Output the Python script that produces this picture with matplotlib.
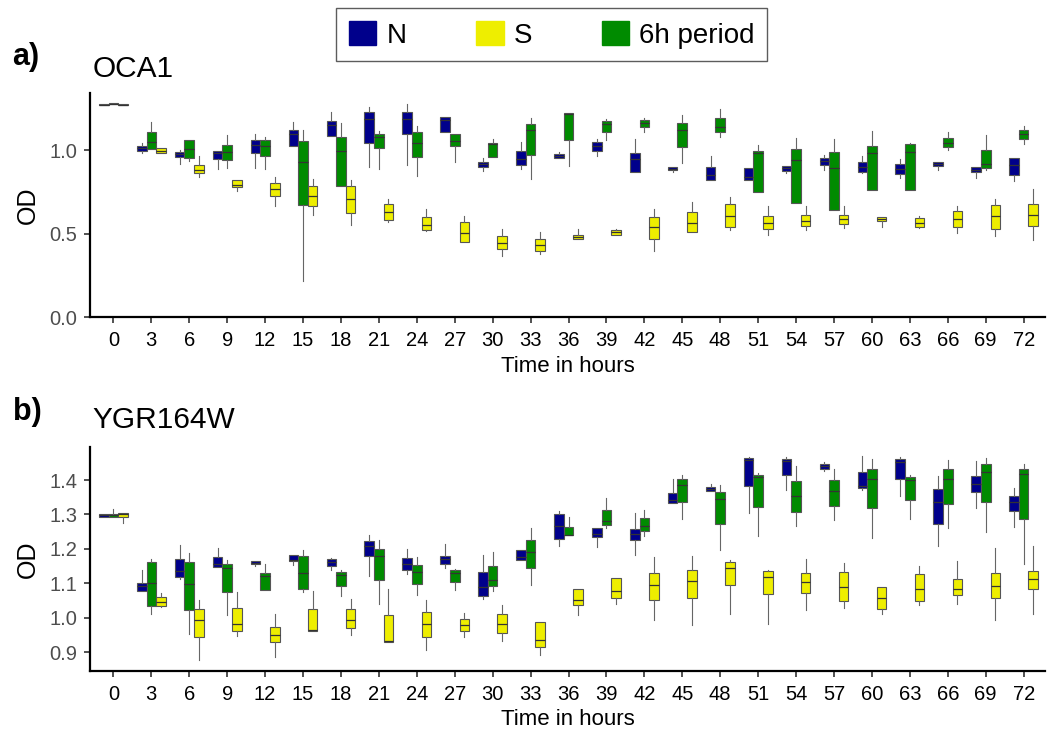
import matplotlib
matplotlib.use("Agg")
import matplotlib.pyplot as plt
from matplotlib.patches import Patch

plt.rcParams['font.family'] = ['Liberation Sans', 'DejaVu Sans']

hours = list(range(0, 73, 3))

# (lower whisker, q1, median, q3, upper whisker) per time point
oca1_N = [(1.270, 1.272, 1.274, 1.276, 1.278), (0.986, 0.998, 1.012, 1.024, 1.044),
          (0.920, 0.960, 0.978, 0.992, 1.000), (0.888, 0.948, 0.984, 0.998, 0.998),
          (0.896, 0.982, 1.034, 1.060, 1.100), (1.024, 1.024, 1.098, 1.120, 1.168),
          (1.088, 1.088, 1.154, 1.176, 1.232), (0.900, 1.046, 1.190, 1.228, 1.260),
          (0.910, 1.098, 1.190, 1.232, 1.280), (1.112, 1.112, 1.180, 1.200, 1.200),
          (0.874, 0.900, 0.916, 0.928, 0.954), (0.888, 0.914, 0.950, 0.994, 1.050),
          (0.952, 0.952, 0.966, 0.976, 0.988), (0.968, 0.998, 1.026, 1.050, 1.066),
          (0.872, 0.872, 0.950, 0.984, 1.066), (0.868, 0.880, 0.890, 0.898, 0.898),
          (0.824, 0.824, 0.854, 0.902, 0.968), (0.820, 0.820, 0.840, 0.894, 0.894),
          (0.864, 0.876, 0.892, 0.908, 0.908), (0.884, 0.910, 0.934, 0.952, 0.974),
          (0.864, 0.872, 0.900, 0.932, 0.964), (0.836, 0.860, 0.888, 0.916, 0.950),
          (0.880, 0.906, 0.918, 0.928, 0.928), (0.836, 0.868, 0.884, 0.898, 0.898),
          (0.818, 0.854, 0.910, 0.952, 0.952)]
oca1_6h = [(1.276, 1.278, 1.280, 1.282, 1.284), (1.008, 1.008, 1.048, 1.108, 1.168),
           (0.936, 0.952, 1.008, 1.060, 1.060), (0.896, 0.942, 0.988, 1.034, 1.092),
           (0.886, 0.966, 1.024, 1.062, 1.078), (0.214, 0.670, 0.928, 1.054, 1.120),
           (0.788, 0.788, 0.998, 1.078, 1.166), (0.890, 1.016, 1.078, 1.100, 1.116),
           (0.848, 0.958, 1.046, 1.108, 1.144), (0.930, 1.026, 1.058, 1.096, 1.096),
           (0.960, 0.960, 1.038, 1.046, 1.070), (0.826, 0.974, 1.124, 1.156, 1.192),
           (0.904, 1.062, 1.220, 1.222, 1.222), (1.064, 1.108, 1.160, 1.176, 1.190),
           (1.112, 1.138, 1.166, 1.180, 1.196), (0.922, 1.018, 1.120, 1.164, 1.212),
           (1.080, 1.108, 1.140, 1.194, 1.248), (0.750, 0.750, 0.986, 0.998, 1.034),
           (0.684, 0.684, 0.944, 1.008, 1.074), (0.640, 0.640, 0.896, 0.990, 1.066),
           (0.760, 0.760, 0.984, 1.024, 1.116), (0.760, 0.760, 0.990, 1.040, 1.046),
           (1.004, 1.018, 1.044, 1.074, 1.112), (0.880, 0.894, 0.916, 1.002, 1.092),
           (1.040, 1.066, 1.100, 1.122, 1.144)]
oca1_S = [(1.270, 1.272, 1.274, 1.276, 1.278), (0.982, 0.986, 0.998, 1.012, 1.014),
          (0.840, 0.864, 0.884, 0.914, 0.968), (0.756, 0.778, 0.790, 0.822, 0.822),
          (0.668, 0.728, 0.768, 0.804, 0.840), (0.614, 0.664, 0.726, 0.784, 0.830),
          (0.552, 0.626, 0.710, 0.784, 0.824), (0.568, 0.584, 0.632, 0.678, 0.708),
          (0.514, 0.524, 0.552, 0.598, 0.648), (0.448, 0.448, 0.506, 0.572, 0.608),
          (0.368, 0.410, 0.444, 0.484, 0.528), (0.376, 0.398, 0.430, 0.466, 0.512),
          (0.466, 0.466, 0.482, 0.494, 0.528), (0.490, 0.494, 0.508, 0.522, 0.526),
          (0.398, 0.470, 0.542, 0.602, 0.648), (0.512, 0.512, 0.564, 0.632, 0.690),
          (0.520, 0.540, 0.608, 0.680, 0.720), (0.492, 0.530, 0.564, 0.606, 0.666),
          (0.522, 0.546, 0.578, 0.614, 0.668), (0.536, 0.560, 0.586, 0.612, 0.664),
          (0.540, 0.574, 0.588, 0.600, 0.600), (0.532, 0.538, 0.566, 0.592, 0.604),
          (0.506, 0.542, 0.590, 0.636, 0.668), (0.486, 0.530, 0.604, 0.674, 0.710),
          (0.464, 0.544, 0.614, 0.680, 0.766)]

ygr_N = [(1.292, 1.293, 1.297, 1.301, 1.301), (1.078, 1.078, 1.092, 1.102, 1.138),
         (1.113, 1.117, 1.137, 1.170, 1.210), (1.146, 1.146, 1.157, 1.175, 1.203),
         (1.150, 1.155, 1.160, 1.165, 1.165), (1.154, 1.165, 1.168, 1.183, 1.183),
         (1.140, 1.150, 1.161, 1.170, 1.173), (1.121, 1.179, 1.209, 1.224, 1.240),
         (1.128, 1.140, 1.156, 1.174, 1.201), (1.144, 1.157, 1.170, 1.179, 1.213),
         (1.053, 1.063, 1.090, 1.132, 1.181), (1.167, 1.167, 1.175, 1.198, 1.198),
         (1.208, 1.229, 1.266, 1.300, 1.310), (1.204, 1.235, 1.243, 1.260, 1.260),
         (1.182, 1.226, 1.243, 1.259, 1.303), (1.332, 1.332, 1.341, 1.363, 1.404),
         (1.369, 1.369, 1.375, 1.380, 1.388), (1.305, 1.382, 1.458, 1.463, 1.466),
         (1.371, 1.415, 1.456, 1.462, 1.468), (1.426, 1.431, 1.441, 1.448, 1.453),
         (1.371, 1.376, 1.384, 1.424, 1.470), (1.353, 1.403, 1.451, 1.460, 1.466),
         (1.208, 1.271, 1.336, 1.374, 1.412), (1.318, 1.366, 1.389, 1.412, 1.456),
         (1.263, 1.311, 1.337, 1.355, 1.378)]
ygr_6h = [(1.293, 1.293, 1.297, 1.301, 1.315), (1.010, 1.035, 1.102, 1.162, 1.171),
          (0.954, 1.021, 1.098, 1.161, 1.187), (1.008, 1.075, 1.143, 1.156, 1.167),
          (1.080, 1.080, 1.120, 1.130, 1.156), (1.075, 1.084, 1.130, 1.179, 1.197),
          (1.063, 1.093, 1.125, 1.134, 1.138), (1.040, 1.109, 1.180, 1.201, 1.226),
          (1.067, 1.099, 1.133, 1.154, 1.177), (1.080, 1.105, 1.131, 1.138, 1.142),
          (1.078, 1.093, 1.109, 1.150, 1.192), (1.094, 1.143, 1.192, 1.227, 1.261),
          (1.239, 1.239, 1.241, 1.264, 1.292), (1.262, 1.270, 1.282, 1.314, 1.347),
          (1.237, 1.251, 1.265, 1.290, 1.313), (1.288, 1.336, 1.387, 1.402, 1.416),
          (1.197, 1.271, 1.344, 1.365, 1.386), (1.237, 1.322, 1.408, 1.415, 1.420),
          (1.266, 1.308, 1.354, 1.397, 1.441), (1.284, 1.325, 1.369, 1.400, 1.433),
          (1.233, 1.318, 1.402, 1.432, 1.461), (1.288, 1.343, 1.399, 1.408, 1.416),
          (1.260, 1.331, 1.404, 1.431, 1.458), (1.248, 1.335, 1.424, 1.446, 1.463),
          (1.156, 1.286, 1.419, 1.433, 1.447)]
ygr_S = [(1.276, 1.293, 1.301, 1.304, 1.304), (1.030, 1.035, 1.045, 1.059, 1.073),
         (0.877, 0.945, 0.992, 1.024, 1.051), (0.947, 0.961, 0.981, 1.027, 1.074),
         (0.887, 0.929, 0.951, 0.973, 1.012), (0.962, 0.962, 0.964, 1.024, 1.079),
         (0.950, 0.970, 0.993, 1.024, 1.055), (0.929, 0.929, 0.931, 1.008, 1.082),
         (0.906, 0.943, 0.982, 1.016, 1.051), (0.945, 0.961, 0.980, 0.996, 1.015),
         (0.932, 0.956, 0.983, 1.010, 1.036), (0.893, 0.914, 0.935, 0.988, 0.988),
         (1.008, 1.038, 1.051, 1.082, 1.082), (1.040, 1.058, 1.077, 1.116, 1.116),
         (0.992, 1.050, 1.094, 1.129, 1.175), (0.980, 1.058, 1.107, 1.140, 1.180),
         (1.010, 1.094, 1.144, 1.163, 1.168), (0.981, 1.068, 1.118, 1.135, 1.138),
         (1.022, 1.073, 1.104, 1.131, 1.170), (1.027, 1.048, 1.090, 1.132, 1.158),
         (1.010, 1.024, 1.057, 1.089, 1.089), (1.038, 1.048, 1.084, 1.126, 1.150),
         (1.039, 1.067, 1.084, 1.111, 1.166), (0.992, 1.056, 1.093, 1.130, 1.203),
         (1.011, 1.083, 1.111, 1.137, 1.208)]

groups = ["N", "S", "6h period"]
colors = {"N": "#00008B", "S": "#EEEE00", "6h period": "#008B00"}
offsets = {"N": -0.76, "6h period": 0.0, "S": 0.76}
box_w = 0.76
edge = "#555555"


def draw_boxes(ax, series):
    for name, rows in series.items():
        stats = []
        for lo, q1, med, q3, hi in rows:
            stats.append(dict(whislo=lo, q1=q1, med=med, q3=q3, whishi=hi, fliers=[]))
        pos = [h + offsets[name] for h in hours]
        ax.bxp(stats, positions=pos, widths=box_w, patch_artist=True,
               showfliers=False, showcaps=False, manage_ticks=False,
               boxprops=dict(facecolor=colors[name], edgecolor=edge, linewidth=0.8),
               whiskerprops=dict(color="#666666", linewidth=0.8),
               medianprops=dict(color="#333333", linewidth=0.9))


def style_axes(ax, yticks, ylim):
    ax.set_xlim(-1.85, 73.7)
    ax.set_ylim(*ylim)
    ax.set_xticks(hours)
    ax.set_xticklabels([str(h) for h in hours], fontsize=14.5, color="black")
    ax.set_yticks(yticks)
    ax.set_yticklabels(["%.1f" % v for v in yticks], fontsize=14.5, color="#4D4D4D")
    for s in ["top", "right"]:
        ax.spines[s].set_visible(False)
    for s in ["left", "bottom"]:
        ax.spines[s].set_linewidth(1.6)
        ax.spines[s].set_color("black")
    ax.tick_params(length=4, width=1.2, color="#333333")
    ax.tick_params(axis="x", pad=6)
    ax.tick_params(axis="y", pad=5)
    ax.set_xlabel("Time in hours", fontsize=16, labelpad=4)
    ax.set_ylabel("OD", fontsize=18, labelpad=7)


fig = plt.figure(figsize=(10.49, 7.34), dpi=100)
ax1 = fig.add_axes([0.0858, 0.568, 0.9105, 0.305])
ax2 = fig.add_axes([0.0858, 0.0858, 0.9105, 0.3052])

draw_boxes(ax1, {"N": oca1_N, "6h period": oca1_6h, "S": oca1_S})
style_axes(ax1, [0.0, 0.5, 1.0], (0.0, 1.342))
draw_boxes(ax2, {"N": ygr_N, "6h period": ygr_6h, "S": ygr_S})
style_axes(ax2, [0.9, 1.0, 1.1, 1.2, 1.3, 1.4], (0.845, 1.496))

fig.text(0.012, 0.911, "a)", fontsize=22, fontweight="bold")
fig.text(0.088, 0.895, "OCA1", fontsize=21.5)
fig.text(0.012, 0.428, "b)", fontsize=22, fontweight="bold")
fig.text(0.088, 0.417, "YGR164W", fontsize=21.5)

handles = [Patch(facecolor=colors[g], edgecolor=colors[g]) for g in groups]
fig.legend(handles, groups, loc="upper center", bbox_to_anchor=(0.526, 0.989),
           ncol=3, fontsize=20, frameon=True, fancybox=False, edgecolor="#333333",
           handlelength=1.0, handleheight=1.0, columnspacing=2.5, handletextpad=0.36,
           borderpad=0.45, borderaxespad=0.0)

fig.savefig("out.png", dpi=100)
